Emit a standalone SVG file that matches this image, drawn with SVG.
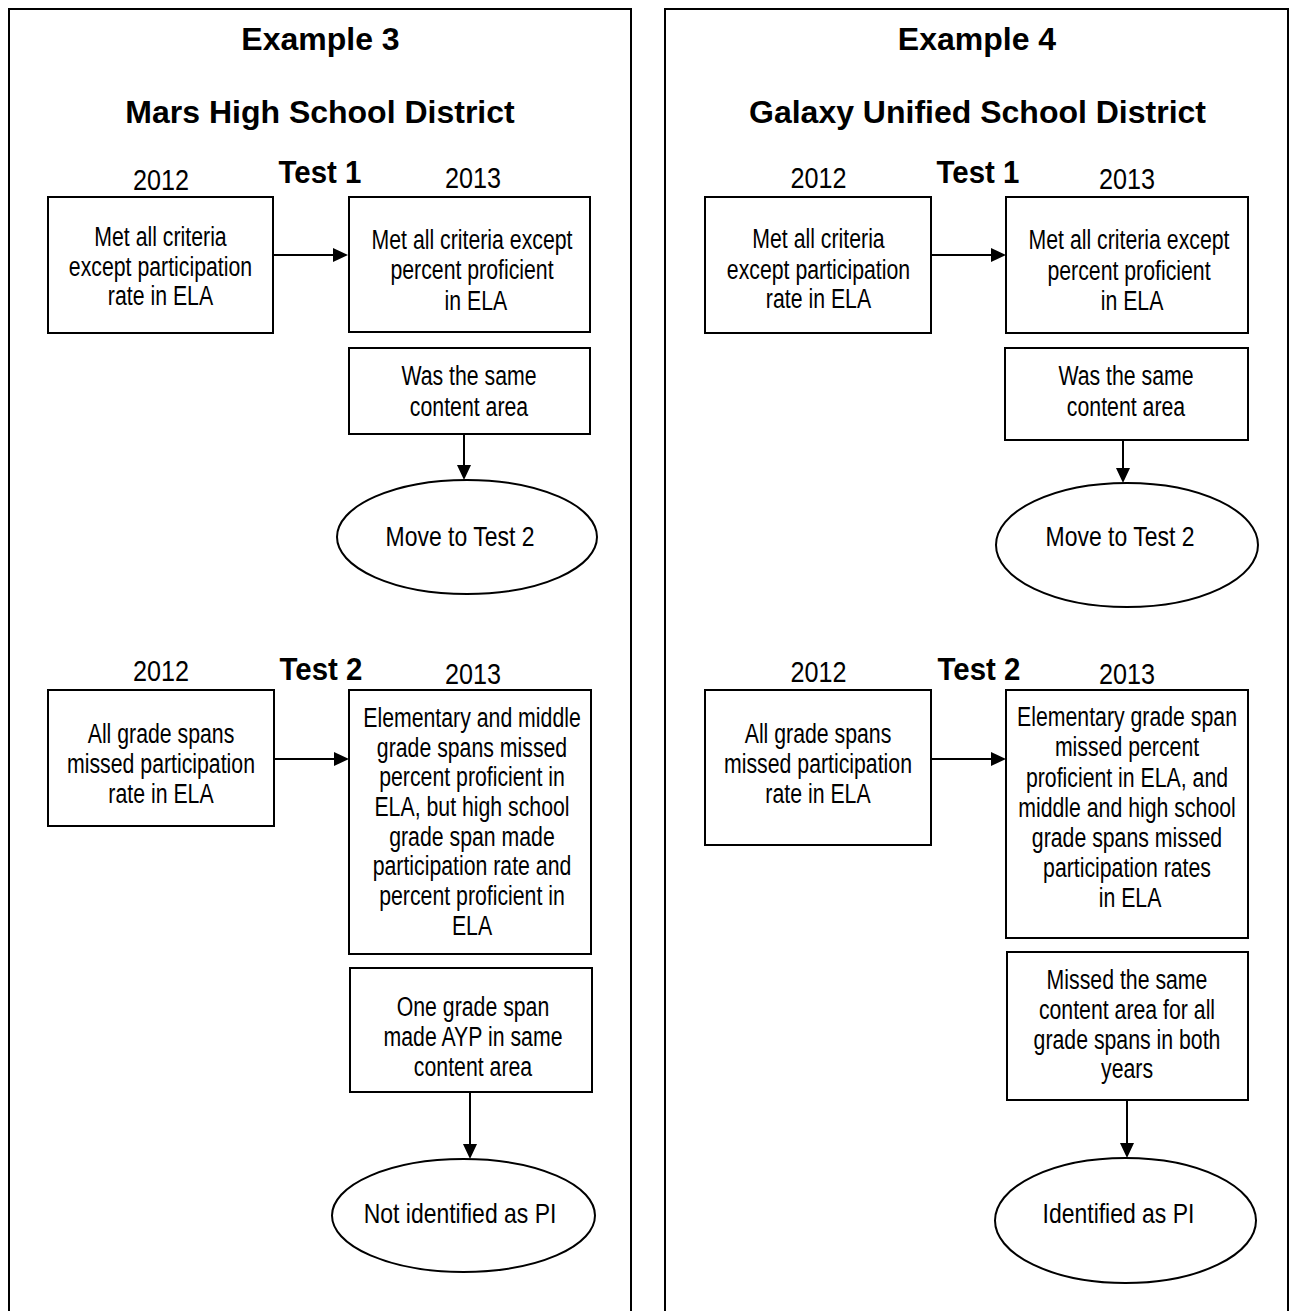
<svg xmlns="http://www.w3.org/2000/svg" width="1296" height="1311" viewBox="0 0 1296 1311">
<defs>
<style>
.panel{fill:none;stroke:#000;stroke-width:2}
.box{fill:#fff;stroke:#000;stroke-width:2}
.conn line{stroke:#000;stroke-width:2;fill:none;marker-end:url(#ah)}
text{font-family:"Liberation Sans",Arial,sans-serif;fill:#000}
.t{font-size:28px;text-anchor:middle}
.e{font-size:28px;text-anchor:middle}
.yr{font-size:30px;text-anchor:middle}
.h{font-size:32px;font-weight:bold;text-anchor:middle}
.test{font-size:31px;font-weight:bold;text-anchor:middle}
</style>
<marker id="ah" markerUnits="userSpaceOnUse" markerWidth="15" markerHeight="14" refX="7" refY="7" orient="auto">
<path d="M0,0 L15,7 L0,14 z" fill="#000"/>
</marker>
</defs>
<rect width="1296" height="1311" fill="#fff"/>

<g id="panel-left">
<rect class="panel" x="9" y="9" width="622" height="1330"/>
<text class="h" x="320.5" y="50">Example 3</text>
<text class="h" x="320" y="123">Mars High School District</text>
<text class="test" transform="translate(320,0) scale(0.95,1)" x="0" y="183">Test 1</text>
<text class="yr" transform="translate(161,0) scale(0.84,1)" x="0" y="190">2012</text>
<text class="yr" transform="translate(473,0) scale(0.84,1)" x="0" y="188">2013</text>
<text class="test" transform="translate(321,0) scale(0.95,1)" x="0" y="680">Test 2</text>
<text class="yr" transform="translate(161,0) scale(0.84,1)" x="0" y="681">2012</text>
<text class="yr" transform="translate(473,0) scale(0.84,1)" x="0" y="684">2013</text>
</g>

<g id="panel-right">
<rect class="panel" x="665" y="9" width="623" height="1330"/>
<text class="h" x="977" y="50">Example 4</text>
<text class="h" x="977.5" y="123">Galaxy Unified School District</text>
<text class="test" transform="translate(978,0) scale(0.95,1)" x="0" y="183">Test 1</text>
<text class="yr" transform="translate(818.5,0) scale(0.84,1)" x="0" y="188">2012</text>
<text class="yr" transform="translate(1127,0) scale(0.84,1)" x="0" y="189">2013</text>
<text class="test" transform="translate(979,0) scale(0.95,1)" x="0" y="680">Test 2</text>
<text class="yr" transform="translate(818.5,0) scale(0.84,1)" x="0" y="682">2012</text>
<text class="yr" transform="translate(1127,0) scale(0.84,1)" x="0" y="684">2013</text>
</g>

<g id="L1">
<rect class="box" x="48" y="197" width="225" height="136"/>
<text class="t" transform="translate(160.5,0) scale(0.76,1)"><tspan x="0" y="246">Met all criteria</tspan><tspan x="0" y="276">except participation</tspan><tspan x="0" y="305">rate in ELA</tspan></text>
</g>
<g id="L2">
<rect class="box" x="349" y="197" width="241" height="135"/>
<text class="t" transform="translate(472,0) scale(0.76,1)"><tspan x="0" y="249">Met all criteria except</tspan><tspan x="0" y="279">percent proficient</tspan><tspan x="5" y="310">in ELA</tspan></text>
</g>
<g id="L3">
<rect class="box" x="349" y="348" width="241" height="86"/>
<text class="t" transform="translate(469,0) scale(0.76,1)"><tspan x="0" y="385">Was the same</tspan><tspan x="0" y="416">content area</tspan></text>
</g>
<g id="LE1">
<ellipse class="box" cx="467" cy="537" rx="130" ry="57"/>
<text class="e" transform="translate(460,0) scale(0.82,1)" x="0" y="546">Move to Test 2</text>
</g>
<g id="L4">
<rect class="box" x="48" y="690" width="226" height="136"/>
<text class="t" transform="translate(161,0) scale(0.76,1)"><tspan x="0" y="743">All grade spans</tspan><tspan x="0" y="773">missed participation</tspan><tspan x="0" y="803">rate in ELA</tspan></text>
</g>
<g id="L5">
<rect class="box" x="349" y="690" width="242" height="264"/>
<text class="t" transform="translate(472,0) scale(0.76,1)"><tspan x="0" y="727">Elementary and middle</tspan><tspan x="0" y="757">grade spans missed</tspan><tspan x="0" y="786">percent proficient in</tspan><tspan x="0" y="816">ELA, but high school</tspan><tspan x="0" y="846">grade span made</tspan><tspan x="0" y="875">participation rate and</tspan><tspan x="0" y="905">percent proficient in</tspan><tspan x="0" y="935">ELA</tspan></text>
</g>
<g id="L6">
<rect class="box" x="350" y="968" width="242" height="124"/>
<text class="t" transform="translate(473,0) scale(0.76,1)"><tspan x="0" y="1016">One grade span</tspan><tspan x="0" y="1046">made AYP in same</tspan><tspan x="0" y="1076">content area</tspan></text>
</g>
<g id="LE2">
<ellipse class="box" cx="463.5" cy="1215.5" rx="131.5" ry="56.5"/>
<text class="e" transform="translate(460,0) scale(0.82,1)" x="0" y="1223">Not identified as PI</text>
</g>

<g id="R1">
<rect class="box" x="705" y="197" width="226" height="136"/>
<text class="t" transform="translate(818.5,0) scale(0.76,1)"><tspan x="0" y="248">Met all criteria</tspan><tspan x="0" y="279">except participation</tspan><tspan x="0" y="308">rate in ELA</tspan></text>
</g>
<g id="R2">
<rect class="box" x="1006" y="197" width="242" height="136"/>
<text class="t" transform="translate(1129,0) scale(0.76,1)"><tspan x="0" y="249">Met all criteria except</tspan><tspan x="0" y="280">percent proficient</tspan><tspan x="4" y="310">in ELA</tspan></text>
</g>
<g id="R3">
<rect class="box" x="1005" y="348" width="243" height="92"/>
<text class="t" transform="translate(1126,0) scale(0.76,1)"><tspan x="0" y="385">Was the same</tspan><tspan x="0" y="416">content area</tspan></text>
</g>
<g id="RE1">
<ellipse class="box" cx="1127" cy="545" rx="131" ry="62"/>
<text class="e" transform="translate(1120,0) scale(0.82,1)" x="0" y="546">Move to Test 2</text>
</g>
<g id="R4">
<rect class="box" x="705" y="690" width="226" height="155"/>
<text class="t" transform="translate(818,0) scale(0.76,1)"><tspan x="0" y="743">All grade spans</tspan><tspan x="0" y="773">missed participation</tspan><tspan x="0" y="803">rate in ELA</tspan></text>
</g>
<g id="R5">
<rect class="box" x="1006" y="690" width="242" height="248"/>
<text class="t" transform="translate(1127,0) scale(0.76,1)"><tspan x="0" y="726">Elementary grade span</tspan><tspan x="0" y="756">missed percent</tspan><tspan x="0" y="787">proficient in ELA, and</tspan><tspan x="0" y="817">middle and high school</tspan><tspan x="0" y="847">grade spans missed</tspan><tspan x="0" y="877">participation rates</tspan><tspan x="4" y="907">in ELA</tspan></text>
</g>
<g id="R6">
<rect class="box" x="1007" y="952" width="241" height="148"/>
<text class="t" transform="translate(1127,0) scale(0.76,1)"><tspan x="0" y="989">Missed the same</tspan><tspan x="0" y="1019">content area for all</tspan><tspan x="0" y="1049">grade spans in both</tspan><tspan x="0" y="1078">years</tspan></text>
</g>
<g id="RE2">
<ellipse class="box" cx="1125.5" cy="1220.5" rx="130.5" ry="62.5"/>
<text class="e" transform="translate(1118.5,0) scale(0.82,1)" x="0" y="1223">Identified as PI</text>
</g>

<g id="connectors" class="conn">
<line x1="273" y1="255" x2="340" y2="255"/>
<line x1="464" y1="434" x2="464" y2="472"/>
<line x1="274" y1="759" x2="341" y2="759"/>
<line x1="470" y1="1092" x2="470" y2="1151"/>
<line x1="931" y1="255" x2="998" y2="255"/>
<line x1="1123" y1="440" x2="1123" y2="475"/>
<line x1="931" y1="759" x2="998" y2="759"/>
<line x1="1127" y1="1100" x2="1127" y2="1150"/>
</g>
</svg>
